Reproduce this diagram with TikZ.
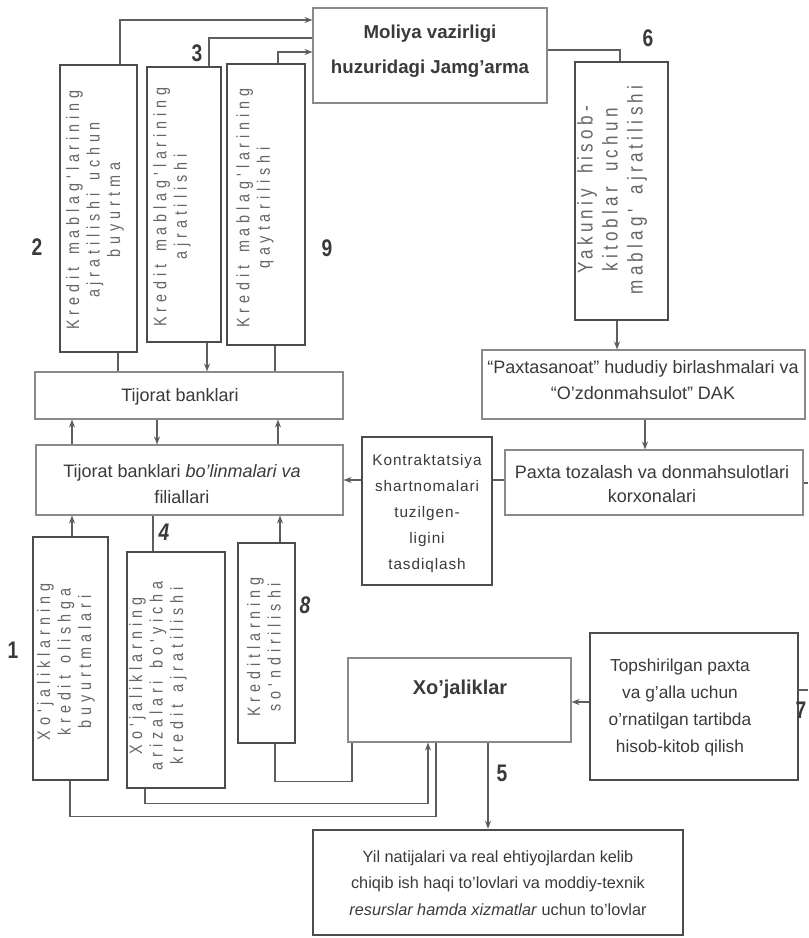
\documentclass[tikz,border=0pt]{standalone}
\usepackage{fontspec}
\setmainfont{Liberation Sans}
\newfontfamily\vfont[LetterSpace=27,FakeStretch=0.8]{Liberation Sans}
\newfontfamily\vfontw[LetterSpace=20,FakeStretch=0.8]{Liberation Sans}
\newfontfamily\kfont[LetterSpace=6]{Liberation Sans}
\newfontfamily\numfont[FakeStretch=0.8]{Liberation Sans}
\newcommand{\vtxtfont}{\vfont\fontsize{13.5pt}{15.4pt}\selectfont}
\newcommand{\vtxtfontw}{\vfontw\fontsize{16pt}{18.75pt}\selectfont}
\newcommand{\wsp}{\hspace{0.7em}}
\usetikzlibrary{arrows.meta,fit}
\definecolor{ink}{HTML}{3A3A3A}
\definecolor{lightink}{HTML}{666666}
\definecolor{edgecol}{HTML}{4C4C4C}
\definecolor{thinedge}{HTML}{8A8A8A}
\definecolor{wire}{HTML}{5E5E5E}
\begin{document}
\begin{tikzpicture}[x=0.75pt,y=-0.75pt,
  thinbox/.style={draw=thinedge, line width=0.8pt, inner sep=0pt},
  thickbox/.style={draw=edgecol, line width=1.8pt, inner sep=0pt},
  htext/.style={text=ink, align=center, inner sep=0pt, font=\fontsize{13.5pt}{19pt}\selectfont},
  vtext/.style={text=lightink, align=center, rotate=90, inner sep=0pt, font=\vtxtfont},
  numlbl/.style={text=ink, inner sep=0pt, font=\numfont\bfseries\fontsize{18pt}{20pt}\selectfont},
  wireline/.style={draw=wire, line width=1pt},
  arr/.style={wireline, -{Stealth[length=6pt,width=4.5pt]}},
]
\useasboundingbox[fill=white] (0,0) rectangle (808,938);

% ---------- boxes ----------
\node[thinbox, fit={(313,8) (547,103)}] (moliya) {};
\node[thickbox, fit={(60,65) (137,352)}] (b2) {};
\node[thickbox, fit={(147,67) (221,342)}] (b3) {};
\node[thickbox, fit={(227,64) (305,345)}] (b9) {};
\node[thickbox, fit={(575,62) (668,320)}] (yak) {};
\node[thinbox, fit={(35,372) (343,419)}] (tb) {};
\node[thinbox, fit={(36,445) (343,515)}] (tbf) {};
\node[thinbox, fit={(482,350) (805,419)}] (pax) {};
\node[thinbox, fit={(505,450) (803,515)}] (ptz) {};
\node[thickbox, fit={(362,437) (492,585)}] (kon) {};
\node[thickbox, fit={(33,537) (108,780)}] (b1) {};
\node[thickbox, fit={(127,552) (225,788)}] (b4) {};
\node[thickbox, fit={(238,543) (295,743)}] (b8) {};
\node[thinbox, fit={(348,658) (571,742)}] (xoj) {};
\node[thickbox, fit={(590,633) (798,780)}] (top) {};
\node[thickbox, fit={(313,830) (683,935)}] (yil) {};

% ---------- texts ----------
\node[htext, font=\bfseries\fontsize{14pt}{26pt}\selectfont] (moliyaT) at (430,51) {Moliya vazirligi\\huzuridagi Jamg'arma};
\node[htext] (tbT) at (180,397) {Tijorat banklari};
\node[htext] (tbfT) at (182,484) {Tijorat banklari \textit{bo'linmalari va}\\filiallari};
\node[htext] (paxT) at (643,380) {“Paxtasanoat” hududiy birlashmalari va\\“O’zdonmahsulot” DAK};
\node[htext, font=\fontsize{13.5pt}{17.5pt}\selectfont] (ptzT) at (652,484) {Paxta tozalash va donmahsulotlari\\korxonalari};
\node[htext, font=\kfont\fontsize{11.5pt}{19.5pt}\selectfont] (konT) at (427,514) {Kontraktatsiya\\shartnomalari\\tuzilgen-\\ligini\\tasdiqlash};
\node[htext, font=\fontsize{13pt}{20.25pt}\selectfont] (topT) at (680,708) {Topshirilgan paxta\\va g'alla uchun\\o'rnatilgan tartibda\\hisob-kitob qilish};
\node[htext, font=\bfseries\fontsize{15pt}{18pt}\selectfont] (xojT) at (460,689) {Xo'jaliklar};
\node[htext, font=\fontsize{12.2pt}{19.9pt}\selectfont] (yilT) at (498,883) {Yil natijalari va real ehtiyojlardan kelib\\chiqib ish haqi to'lovlari va moddiy-texnik\\\textit{resurslar hamda xizmatlar} uchun to'lovlar};

\node[vtext] (b2T) at (95,210) {Kredit\wsp mablag'larining\\ajratilishi\wsp uchun\\buyurtma};
\node[vtext] (b3T) at (172,207) {Kredit\wsp mablag'larining\\ajratilishi};
\node[vtext] (b9T) at (255,208) {Kredit\wsp mablag'larining\\qaytarilishi};
\node[vtext, font=\vtxtfontw] (yakT) at (612,190) {Yakuniy\wsp hisob-\\kitoblar\wsp uchun\\mablag'\wsp ajratilishi};
\node[vtext] (b1T) at (66,662) {Xo'jaliklarning\\kredit\wsp olishga\\buyurtmalari};
\node[vtext] (b4T) at (158,676) {Xo'jaliklarning\\arizalari\wsp bo'yicha\\kredit\wsp ajratilishi};
\node[vtext] (b8T) at (264,647) {Kreditlarning\\so'ndirilishi};

% ---------- number labels ----------
\node[numlbl] (n1) at (13,650) {1};
\node[numlbl] (n2) at (37,247) {2};
\node[numlbl] (n3) at (197,53) {3};
\node[numlbl, font=\numfont\bfseries\itshape\fontsize{18pt}{20pt}\selectfont] (n4) at (164,532) {4};
\node[numlbl] (n5) at (502,773) {5};
\node[numlbl] (n6) at (648,38) {6};
\node[numlbl] (n7) at (801,710) {7};
\node[numlbl, font=\numfont\bfseries\itshape\fontsize{18pt}{20pt}\selectfont] (n8) at (305,605) {8};
\node[numlbl] (n9) at (327,248) {9};

% ---------- connectors ----------
\draw[arr] (b2.north -| 120,0) |- (moliya.west |- 0,20);
\draw[wireline] (moliya.west |- 0,38) -| (b3.north -| 209,0);
\draw[arr] (b9.north -| 278,0) |- (moliya.west |- 0,52);
\draw[wireline] (moliya.east |- 0,50) -| (yak.north -| 620,0);
\draw[arr] (yak.south -| 617,0) -- (pax.north -| 617,0);
\draw[arr] (pax.south -| 645,0) -- (ptz.north -| 645,0);

\draw[wireline] (tb.north -| 118,0) -- (b2.south -| 118,0);
\draw[arr] (b3.south -| 207,0) -- (tb.north -| 207,0);
\draw[wireline] (tb.north -| 275,0) -- (b9.south -| 275,0);

\draw[arr] (tbf.north -| 72,0) -- (tb.south -| 72,0);
\draw[arr] (tb.south -| 157,0) -- (tbf.north -| 157,0);
\draw[arr] (tbf.north -| 278,0) -- (tb.south -| 278,0);

\draw[arr] (b1.north -| 72,0) -- (tbf.south -| 72,0);
\draw[wireline] (tbf.south -| 153,0) -- (b4.north -| 153,0);
\draw[arr] (b8.north -| 280,0) -- (tbf.south -| 280,0);

\draw[arr] (kon.west |- 0,480) -- (tbf.east |- 0,480);
\draw[wireline] (ptz.west |- 0,480) -- (kon.east |- 0,480);

\coordinate (edgeA) at (808,483);
\coordinate (edgeB) at (808,690);
\draw[wireline] (ptz.east |- 0,483) -- (edgeA);
\draw[wireline] (top.east |- 0,690) -- (edgeB);

\draw[arr] (top.west |- 0,702) -- (xoj.east |- 0,702);
\draw[arr] (xoj.south -| 488,0) -- (yil.north -| 488,0);

\draw[wireline] (b8.south -| 275,0) -- ++(0,37) -| (xoj.south -| 352,0);
\draw[arr] (b4.south -| 145,0) -- ++(0,14) -| (xoj.south -| 428,0);
\draw[wireline] (b1.south -| 70,0) -- ++(0,35) -| (xoj.south -| 436,0);
\end{tikzpicture}
\end{document}
